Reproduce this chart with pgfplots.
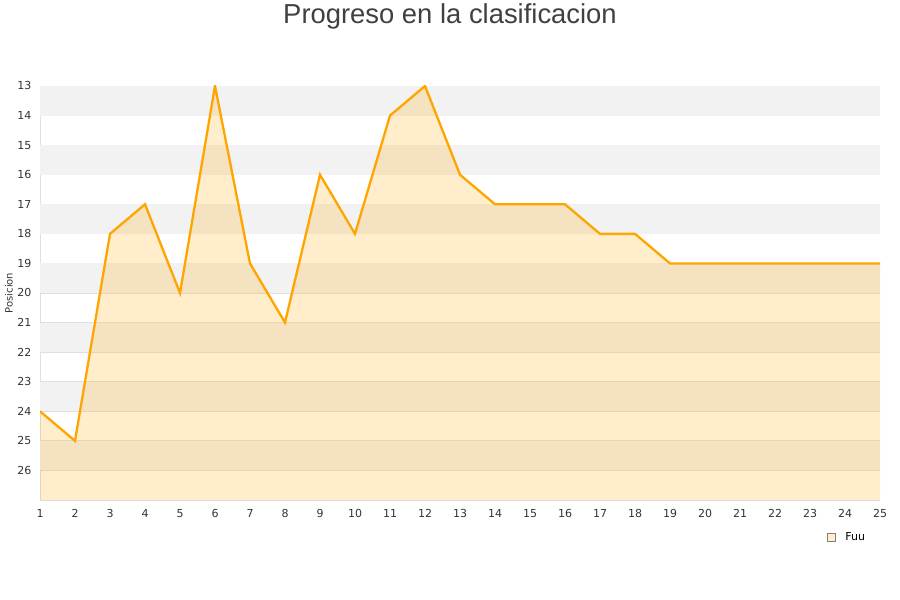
\documentclass[border=0pt]{standalone}
\usepackage{pgfplots}
\pgfplotsset{compat=1.18}
\usepackage{fontspec}
\setmainfont{DejaVu Sans}
\newfontfamily\titlefont{Liberation Sans}
\definecolor{lineorange}{HTML}{FFA500}
\definecolor{bandgray}{HTML}{F2F2F2}
\definecolor{gridgray}{HTML}{E0E0E0}
\definecolor{txt}{HTML}{333333}
\begin{document}
\begin{tikzpicture}[x=1bp,y=1bp]
\useasboundingbox (0,0) rectangle (900,600);
\node[font=\titlefont\fontsize{27.4bp}{30bp}\selectfont, text=black!75] at (450,584) {Progreso en la clasificacion};
\begin{axis}[
  at={(40bp,100bp)}, anchor=south west,
  scale only axis, width=840bp, height=414bp,
  xmin=1, xmax=25, ymin=13, ymax=27,
  y dir=reverse,
  xtick={1,...,25}, ytick={13,...,26},
  ymajorgrids, grid style={gridgray, line width=0.8bp},
  axis line style={gridgray, line width=0.8bp},
  axis x line*=bottom, axis y line*=left,
  tick style={draw=none},
  ticklabel style={font=\fontsize{11bp}{13bp}\selectfont, text=txt},
  /pgf/number format/assume math mode=true,
  yticklabel style={xshift=-5bp},
  xticklabel style={yshift=-6bp},
  ylabel={Posicion}, ylabel style={font=\fontsize{10bp}{12bp}\selectfont, text=txt, at={(ticklabel cs:0.5)}, yshift=-2bp},
  legend style={at={(0.9333,-0.0894)}, anchor=west, draw=none, fill=none,
    font=\fontsize{11bp}{13bp}\selectfont, text=black,
    legend cell align=left},
  legend image code/.code={\path[draw=none] (0bp,0bp) -- (16bp,0bp);\draw[draw=gray, fill=lineorange!20, line width=0.6bp] (0bp,-4bp) rectangle (8bp,4bp);},
  clip=true,
]
\fill[bandgray] (axis cs:1,13) rectangle (axis cs:25,14);
\fill[bandgray] (axis cs:1,15) rectangle (axis cs:25,16);
\fill[bandgray] (axis cs:1,17) rectangle (axis cs:25,18);
\fill[bandgray] (axis cs:1,19) rectangle (axis cs:25,20);
\fill[bandgray] (axis cs:1,21) rectangle (axis cs:25,22);
\fill[bandgray] (axis cs:1,23) rectangle (axis cs:25,24);
\fill[bandgray] (axis cs:1,25) rectangle (axis cs:25,26);
\addplot[draw=none, fill=lineorange, fill opacity=0.2, forget plot] coordinates {
  (1,27) (1,24) (2,25) (3,18) (4,17) (5,20) (6,13) (7,19) (8,21) (9,16) (10,18)
  (11,14) (12,13) (13,16) (14,17) (15,17) (16,17) (17,18) (18,18) (19,19)
  (20,19) (21,19) (22,19) (23,19) (24,19) (25,19) (25,27)
} -- cycle;
\addplot[lineorange, line width=2.3bp, mark=none] coordinates {
  (1,24) (2,25) (3,18) (4,17) (5,20) (6,13) (7,19) (8,21) (9,16) (10,18)
  (11,14) (12,13) (13,16) (14,17) (15,17) (16,17) (17,18) (18,18) (19,19)
  (20,19) (21,19) (22,19) (23,19) (24,19) (25,19)
};
\addlegendentry{Fuu}
\end{axis}
\end{tikzpicture}
\end{document}
